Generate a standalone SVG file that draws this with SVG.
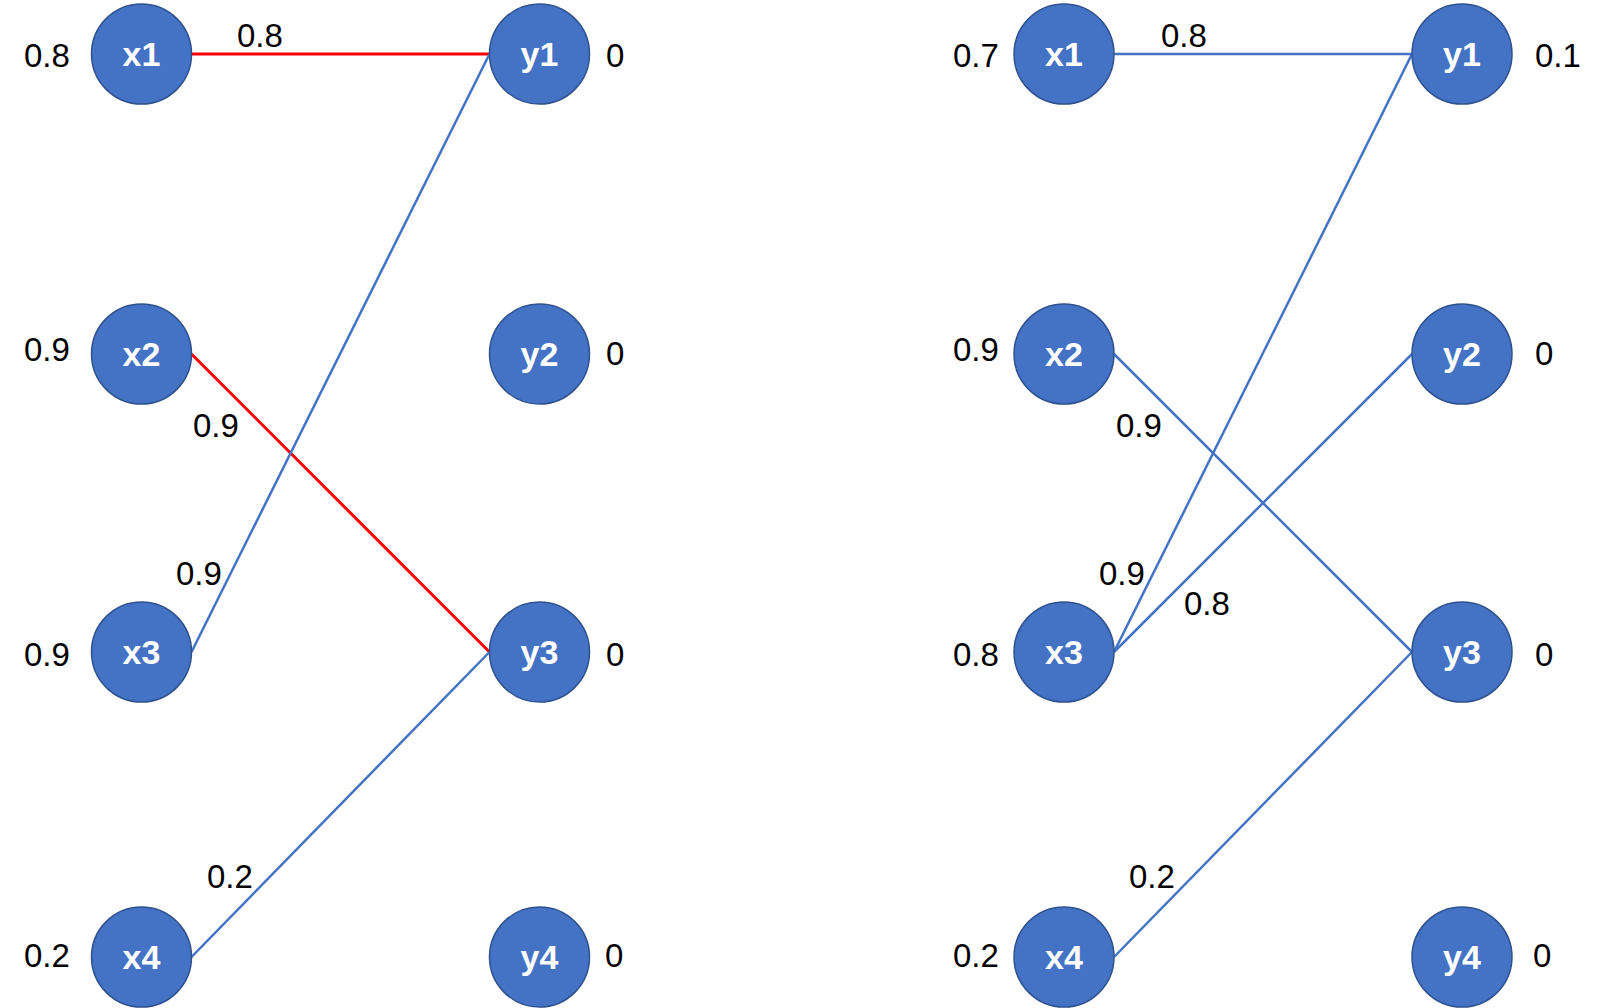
<svg xmlns="http://www.w3.org/2000/svg" width="1608" height="1008" viewBox="0 0 1608 1008">
<style>
.n{fill:#4472C4;stroke:#2F528F;stroke-width:1.5}
.t{fill:#fff;font-family:"Liberation Sans",Arial,sans-serif;font-weight:bold;font-size:34px;text-anchor:middle}
.v{fill:#000;font-family:"Liberation Sans",Arial,sans-serif;font-size:33px}
.b{stroke:#4472C4;stroke-width:2.5;fill:none}
.r{stroke:#FF0000;stroke-width:3;fill:none}
</style>
<rect width="1608" height="1008" fill="#fff"/>
<g id="connectors">
<line class="r" x1="191.5" y1="54" x2="489.5" y2="54"/>
<line class="r" x1="191.5" y1="354" x2="489.5" y2="652"/>
<line class="b" x1="191.5" y1="652" x2="489.5" y2="54"/>
<line class="b" x1="191.5" y1="957" x2="489.5" y2="652"/>
<line class="b" x1="1114" y1="54" x2="1412" y2="54"/>
<line class="b" x1="1114" y1="354" x2="1412" y2="652"/>
<line class="b" x1="1114" y1="652" x2="1412" y2="54"/>
<line class="b" x1="1114" y1="652" x2="1412" y2="354"/>
<line class="b" x1="1114" y1="957" x2="1412" y2="652"/>
</g>
<g id="edge-labels">
<text class="v" x="237" y="47">0.8</text>
<text class="v" x="193" y="437">0.9</text>
<text class="v" x="176" y="585">0.9</text>
<text class="v" x="207" y="888">0.2</text>
<text class="v" x="1161" y="47">0.8</text>
<text class="v" x="1116" y="437">0.9</text>
<text class="v" x="1099" y="585">0.9</text>
<text class="v" x="1184" y="615">0.8</text>
<text class="v" x="1129" y="888">0.2</text>
</g>
<g id="value-labels">
<text class="v" x="24" y="66.5">0.8</text>
<text class="v" x="24" y="360.5">0.9</text>
<text class="v" x="24" y="665.5">0.9</text>
<text class="v" x="24" y="967">0.2</text>
<text class="v" x="606" y="66.5">0</text>
<text class="v" x="606" y="365">0</text>
<text class="v" x="606" y="665.5">0</text>
<text class="v" x="605" y="967">0</text>
<text class="v" x="953" y="66.5">0.7</text>
<text class="v" x="953" y="360.5">0.9</text>
<text class="v" x="953" y="665.5">0.8</text>
<text class="v" x="953" y="967">0.2</text>
<text class="v" x="1535" y="66.5">0.1</text>
<text class="v" x="1535" y="365">0</text>
<text class="v" x="1535" y="665.5">0</text>
<text class="v" x="1533" y="967">0</text>
</g>
<g id="L-x1"><circle class="n" cx="141.5" cy="54" r="50"/><text class="t" x="141.5" y="66">x1</text></g>
<g id="L-x2"><circle class="n" cx="141.5" cy="354" r="50"/><text class="t" x="141.5" y="366">x2</text></g>
<g id="L-x3"><circle class="n" cx="141.5" cy="652" r="50"/><text class="t" x="141.5" y="664">x3</text></g>
<g id="L-x4"><circle class="n" cx="141.5" cy="957" r="50"/><text class="t" x="141.5" y="969">x4</text></g>
<g id="L-y1"><circle class="n" cx="539.5" cy="54" r="50"/><text class="t" x="539.5" y="66">y1</text></g>
<g id="L-y2"><circle class="n" cx="539.5" cy="354" r="50"/><text class="t" x="539.5" y="366">y2</text></g>
<g id="L-y3"><circle class="n" cx="539.5" cy="652" r="50"/><text class="t" x="539.5" y="664">y3</text></g>
<g id="L-y4"><circle class="n" cx="539.5" cy="957" r="50"/><text class="t" x="539.5" y="969">y4</text></g>
<g id="R-x1"><circle class="n" cx="1064" cy="54" r="50"/><text class="t" x="1064" y="66">x1</text></g>
<g id="R-x2"><circle class="n" cx="1064" cy="354" r="50"/><text class="t" x="1064" y="366">x2</text></g>
<g id="R-x3"><circle class="n" cx="1064" cy="652" r="50"/><text class="t" x="1064" y="664">x3</text></g>
<g id="R-x4"><circle class="n" cx="1064" cy="957" r="50"/><text class="t" x="1064" y="969">x4</text></g>
<g id="R-y1"><circle class="n" cx="1462" cy="54" r="50"/><text class="t" x="1462" y="66">y1</text></g>
<g id="R-y2"><circle class="n" cx="1462" cy="354" r="50"/><text class="t" x="1462" y="366">y2</text></g>
<g id="R-y3"><circle class="n" cx="1462" cy="652" r="50"/><text class="t" x="1462" y="664">y3</text></g>
<g id="R-y4"><circle class="n" cx="1462" cy="957" r="50"/><text class="t" x="1462" y="969">y4</text></g>
</svg>
